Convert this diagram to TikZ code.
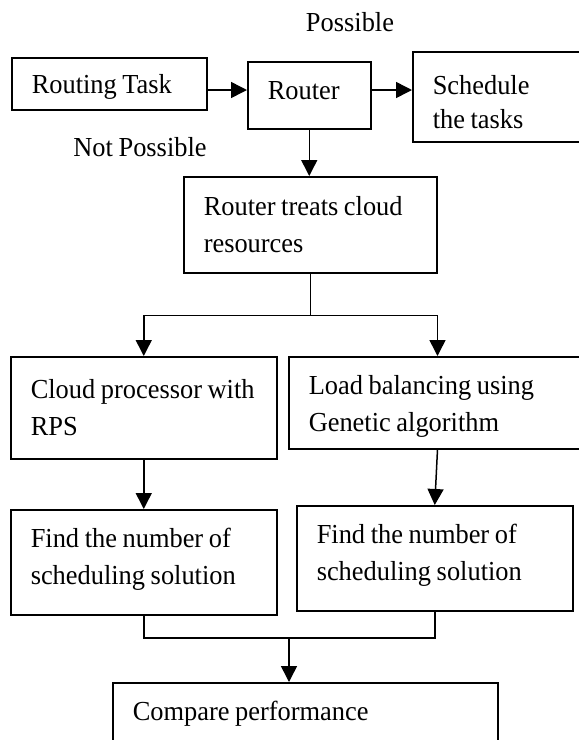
\documentclass[tikz,border=0pt]{standalone}
\usepackage{fontspec}
\setmainfont{Liberation Serif}[FakeStretch=0.96,WordSpace=0.85]
\usetikzlibrary{arrows.meta,calc}
\begin{document}
\begin{tikzpicture}[x=1pt,y=-1pt,
  every node/.style={font=\fontsize{27.5}{37.5}\selectfont},
  box/.style={draw,line width=1.5pt,anchor=north west,inner xsep=20pt,inner ysep=0pt,align=flush left},
  lbl/.style={inner sep=0pt},
  conn/.style={line width=1.5pt},
  arr/.style={conn,-{Triangle[length=16pt,width=16pt]}}]
\useasboundingbox (0,0) rectangle (579,740);
\clip (0,0) rectangle (579,740);
% nodes
\node[lbl] (possible) at (350,22) {Possible};
\node[box,text width=155pt,minimum width=195pt,minimum height=52pt,text height=20pt,text depth=0pt] (rt) at (11,57) {Routing Task};
\node[box,text width=83pt,minimum width=123pt,minimum height=67pt,text height=18pt,text depth=10pt] (router) at (247,61) {Router};
\node[box,text width=148pt,minimum width=188pt,minimum height=90pt] (sched) at (412,51) {\rule{0pt}{30pt}Schedule\\[-3pt]the tasks};
\node[lbl] (notpos) at (140,147) {Not Possible};
\node[box,text width=213pt,minimum width=253pt,minimum height=96pt] (treats) at (183,176) {Router treats cloud\\resources};
\node[box,text width=226pt,minimum width=266pt,minimum height=102pt] (cloud) at (10,356) {Cloud processor with\\RPS};
\node[box,text width=272pt,minimum width=312pt,minimum height=92pt] (load) at (288,356) {\rule{0pt}{26pt}Load balancing using\\Genetic algorithm};
\node[box,text width=226pt,minimum width=266pt,minimum height=105pt] (findL) at (10,509) {Find the number of\\scheduling solution\rule[-12pt]{0pt}{0pt}};
\node[box,text width=236pt,minimum width=276pt,minimum height=105pt] (findR) at (296,505) {Find the number of\\scheduling solution\rule[-12pt]{0pt}{0pt}};
\node[box,text width=345pt,minimum width=385pt,minimum height=80pt,text height=18pt,text depth=22pt] (cmp) at (112,682) {Compare performance};
% connectors
\coordinate (ya) at (0,90);
\draw[arr] (rt.east |- ya) -- (router.west |- ya);
\draw[arr] (router.east |- ya) -- (sched.west |- ya);
\draw[arr] (router.south) -- (router.south |- treats.north);
\draw[conn] (treats.south) -- ++(0,42) coordinate (split);
\draw[arr] (split) -| (cloud.north);
\draw[arr] (split) -| (load.north -| treats.east);
\draw[arr] (cloud.south) -- (findL.north);
\draw[arr] (load.south -| treats.east) -- (findR.north);
\coordinate (m) at (289,638);
\draw[conn] (findL.south) |- (m);
\draw[conn] (findR.south) |- (m);
\draw[arr] (m) -- (m |- cmp.north);
\end{tikzpicture}
\end{document}
